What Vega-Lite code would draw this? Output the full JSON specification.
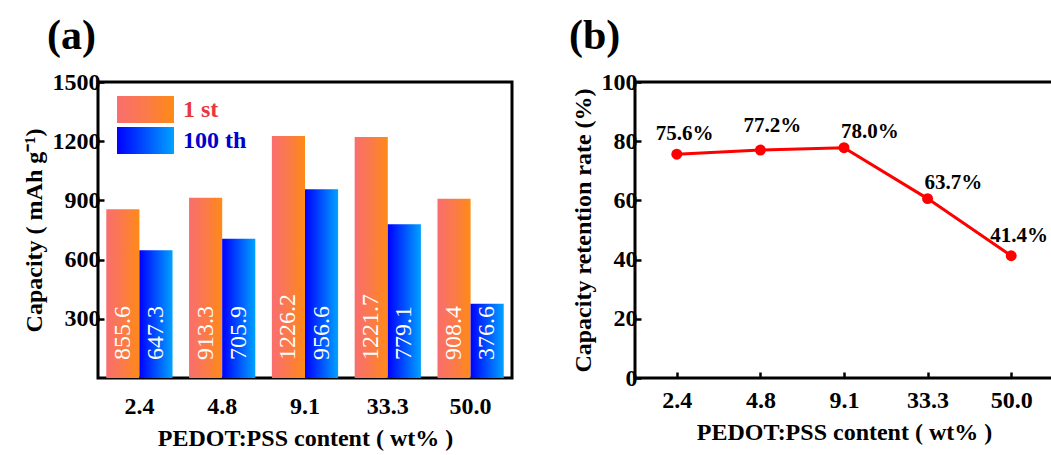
{
  "$schema": "https://vega.github.io/schema/vega-lite/v6.json",
  "background": "white",
  "padding": {"left": 20, "top": 13, "right": 0, "bottom": 0},
  "spacing": 53,
  "config": {
    "font": "Times New Roman, Liberation Serif, serif",
    "view": {"stroke": "black", "strokeWidth": 3},
    "axis": {
      "labelFont": "Times New Roman, Liberation Serif, serif", "labelFontWeight": "bold", "labelFontSize": 24, "labelColor": "black",
      "titleFont": "Times New Roman, Liberation Serif, serif", "titleFontWeight": "bold", "titleFontSize": 24, "titleColor": "black",
      "domain": false, "grid": false, "tickColor": "black", "tickWidth": 2.5, "tickSize": -6, "labelPadding": 4
    },
    "legend": {
      "orient": "none", "title": null,
      "symbolType": "M-2,-0.94H2V0.94H-2Z", "symbolSize": 812, "symbolStrokeWidth": 0, "symbolOpacity": 1,
      "labelFont": "Times New Roman, Liberation Serif, serif", "labelFontSize": 24, "labelFontWeight": "bold", "labelOffset": 23
    },
    "title": {"font": "Times New Roman, Liberation Serif, serif", "fontSize": 42, "fontWeight": "bold", "anchor": "start", "color": "black"}
  },
  "hconcat": [
    {
      "width": 414,
      "height": 296,
      "title": {"text": "(a)", "dx": 25, "offset": 12},
      "data": {"values": [
        {"content": "2.4", "cycle": "1 st", "capacity": 855.6},
        {"content": "2.4", "cycle": "100 th", "capacity": 647.3},
        {"content": "4.8", "cycle": "1 st", "capacity": 913.3},
        {"content": "4.8", "cycle": "100 th", "capacity": 705.9},
        {"content": "9.1", "cycle": "1 st", "capacity": 1226.2},
        {"content": "9.1", "cycle": "100 th", "capacity": 956.6},
        {"content": "33.3", "cycle": "1 st", "capacity": 1221.7},
        {"content": "33.3", "cycle": "100 th", "capacity": 779.1},
        {"content": "50.0", "cycle": "1 st", "capacity": 908.4},
        {"content": "50.0", "cycle": "100 th", "capacity": 376.6}
      ]},
      "encoding": {
        "x": {"field": "content", "type": "nominal", "sort": null,
              "scale": {"paddingInner": 0.2, "paddingOuter": 0.1},
              "axis": {"title": "PEDOT:PSS content ( wt% )", "labelAngle": 0, "ticks": false, "labelPadding": 16, "titlePadding": 8}},
        "xOffset": {"field": "cycle", "type": "nominal", "sort": null, "scale": {"domain": ["1 st", "100 th"], "paddingInner": 0, "paddingOuter": 0}},
        "y": {"field": "capacity", "type": "quantitative", "scale": {"domain": [0, 1500], "nice": false},
              "axis": {"values": [300, 600, 900, 1200, 1500], "title": "Capacity ( mAh g⁻¹)", "titlePadding": 6, "format": "d"}}
      },
      "resolve": {"scale": {"stroke": "independent"}, "legend": {"stroke": "independent"}},
      "layer": [
        {
          "transform": [{"filter": "datum.cycle === '1 st'"}],
          "mark": {"type": "bar", "strokeWidth": 0,
                   "fill": {"gradient": "linear", "x1": 0, "y1": 0, "x2": 1, "y2": 0, "stops": [{"offset": 0, "color": "#f96e6e"}, {"offset": 0.5, "color": "#fb7a4a"}, {"offset": 1, "color": "#ff8a16"}]}},
          "encoding": {
            "stroke": {"datum": "1 st", "type": "nominal", "scale": {"range": ["#fa6d6d"]},
              "legend": {"legendX": 33, "legendY": 13, "labelColor": "#e8383d"}}
          }
        },
        {
          "transform": [{"filter": "datum.cycle === '100 th'"}],
          "mark": {"type": "bar", "strokeWidth": 0,
                   "fill": {"gradient": "linear", "x1": 0, "y1": 0, "x2": 1, "y2": 0, "stops": [{"offset": 0, "color": "#0000ff"}, {"offset": 1, "color": "#00a2ff"}]}},
          "encoding": {
            "stroke": {"datum": "100 th", "type": "nominal", "scale": {"range": ["#0000ff"]},
              "legend": {"legendX": 33, "legendY": 44, "labelColor": "#0000cc"}}
          }
        },
        {
          "mark": {"type": "text", "angle": 270, "align": "left", "baseline": "middle", "dx": 18, "color": "white", "fontSize": 24, "font": "Times New Roman, Liberation Serif, serif"},
          "encoding": {
            "y": {"datum": 0, "type": "quantitative"},
            "text": {"field": "capacity", "type": "quantitative", "format": ".1f"}
          }
        }
      ]
    },
    {
      "width": 418,
      "height": 296,
      "title": {"text": "(b)", "dx": -2, "offset": 12},
      "data": {"values": [
        {"content": "2.4", "rate": 75.6, "label": "75.6%", "grp": "a"},
        {"content": "4.8", "rate": 77.0, "label": "77.2%", "grp": "b"},
        {"content": "9.1", "rate": 77.8, "label": "78.0%", "grp": "c"},
        {"content": "33.3", "rate": 60.6, "label": "63.7%", "grp": "c"},
        {"content": "50.0", "rate": 41.3, "label": "41.4%", "grp": "a"}
      ]},
      "encoding": {
        "x": {"field": "content", "type": "ordinal", "sort": null, "scale": {"type": "point", "padding": 0.5},
              "axis": {"title": "PEDOT:PSS content ( wt% )", "labelAngle": 0, "labelPadding": 16, "titlePadding": 8}},
        "y": {"field": "rate", "type": "quantitative", "scale": {"domain": [0, 100], "nice": false},
              "axis": {"values": [0, 20, 40, 60, 80, 100], "title": "Capacity retention rate (%)", "titlePadding": 6}}
      },
      "layer": [
        {"mark": {"type": "line", "color": "#ff0000", "strokeWidth": 3}},
        {"mark": {"type": "point", "filled": true, "color": "#ff0000", "size": 120, "opacity": 1}},
        {"transform": [{"filter": "datum.grp === 'a'"}],
         "mark": {"type": "text", "align": "left", "baseline": "alphabetic", "dx": -21, "dy": -14, "fontSize": 21, "fontWeight": "bold", "font": "Times New Roman, Liberation Serif, serif", "color": "black"},
         "encoding": {"text": {"field": "label"}}},
        {"transform": [{"filter": "datum.grp === 'b'"}],
         "mark": {"type": "text", "align": "left", "baseline": "alphabetic", "dx": -17, "dy": -18, "fontSize": 21, "fontWeight": "bold", "font": "Times New Roman, Liberation Serif, serif", "color": "black"},
         "encoding": {"text": {"field": "label"}}},
        {"transform": [{"filter": "datum.grp === 'c'"}],
         "mark": {"type": "text", "align": "left", "baseline": "alphabetic", "dx": -3, "dy": -10, "fontSize": 21, "fontWeight": "bold", "font": "Times New Roman, Liberation Serif, serif", "color": "black"},
         "encoding": {"text": {"field": "label"}}}
      ]
    }
  ]
}
